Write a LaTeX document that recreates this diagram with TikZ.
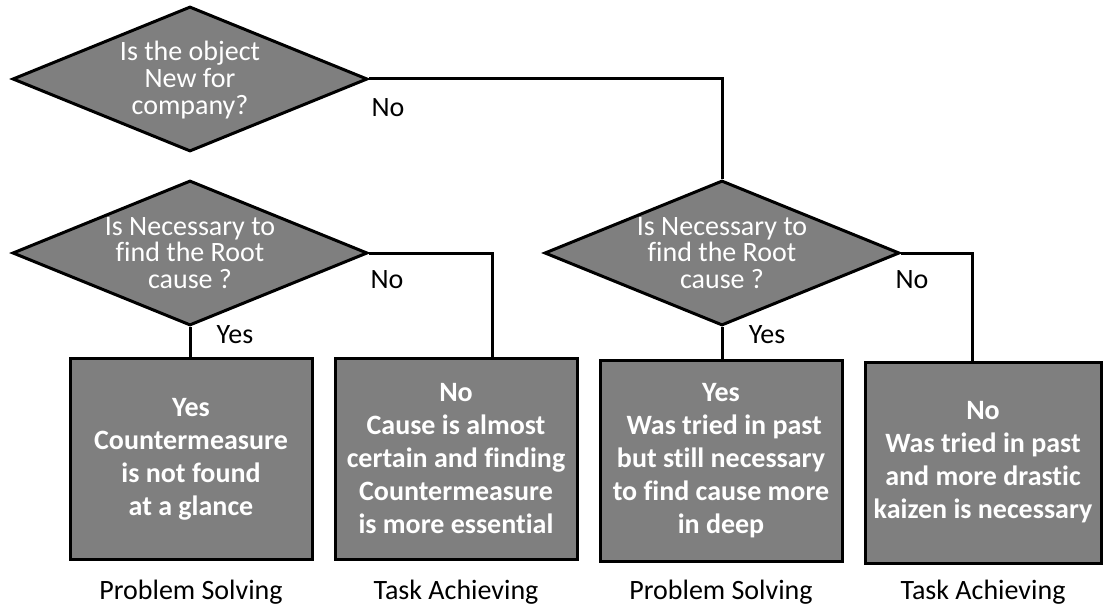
\documentclass[tikz,border=0pt]{standalone}
\usepackage{fontspec}
\setmainfont{Carlito}[Ligatures=NoCommon]
\usetikzlibrary{shapes.geometric,calc}
\definecolor{boxgray}{RGB}{127,127,127}
\begin{document}
\begin{tikzpicture}[x=1pt,y=-1pt,
  decision/.style={diamond,draw=black,line width=3pt,fill=boxgray,
    minimum width=355pt,minimum height=145pt,inner sep=0pt},
  qtext/.style={text=white,align=center,inner sep=0pt,
    font=\fontsize{28}{26.7}\selectfont},
  outcome/.style={rectangle,draw=black,line width=3pt,fill=boxgray,
    minimum width=242pt,minimum height=201pt,inner sep=0pt},
  otext/.style={text=white,align=center,inner sep=0pt,
    font=\bfseries\fontsize{28}{33}\selectfont},
  answer/.style={text=black,inner sep=0pt,font=\fontsize{28}{33}\selectfont},
  kind/.style={text=black,inner sep=0pt,font=\fontsize{28}{33}\selectfont},
  link/.style={draw=black,line width=3pt}]
\useasboundingbox (0,0) rectangle (1103,610);

% decisions
\node[decision] (q1) at (190,79) {};
\node[qtext] (q1t) at (190,80) {Is the object\\New for\\company?};
\node[decision] (q2) at (190,253) {};
\node[qtext] (q2t) at (q2) {Is Necessary to\\find the Root\\cause ?};
\node[decision] (q3) at (722,253) {};
\node[qtext] (q3t) at (q3) {Is Necessary to\\find the Root\\cause ?};

% outcomes
\node[outcome] (b1) at (191,459) {};
\node[otext] (b1t) at (b1) {Yes\\Countermeasure\\is not found\\at a glance};
\node[outcome] (b2) at (456,459) {};
\node[otext] (b2t) at (b2) {No\\Cause is almost\\certain and finding\\Countermeasure\\is more essential};
\node[outcome] (b3) at (721,461) {};
\node[otext] (b3t) at (b3) {Yes\\\hspace*{0.23em}Was tried in past\\but still necessary\\to find cause more\\in deep};
\node[outcome,minimum width=236pt] (b4) at (983,462.5) {};
\node[otext] (b4t) at (b4) {No\\Was tried in past\\and more drastic\\kaizen is necessary};

% connectors
\coordinate (n2) at ($(b2.north west)+(159,0)$);
\coordinate (n4) at ($(b4.north west)+(109,0)$);
\draw[link] (q1.east) -| (q3.north);
\draw[link] (q2.east) -| (n2);
\draw[link] (q3.east) -| (n4);
\draw[link] (q2.south) -- (q2.south |- b1.north);
\draw[link] (q3.south) -- (q3.south |- b3.north);

% branch labels
\node[answer] (l1) at (388,108) {No};
\node[answer] (l2) at (387,280) {No};
\node[answer] (l3) at (912,280) {No};
\node[answer] (l4) at (235,335) {Yes};
\node[answer] (l5) at (767,335) {Yes};

% categories
\node[kind] (c1) at (191,592) {Problem Solving};
\node[kind] (c2) at (456,592) {Task Achieving};
\node[kind] (c3) at (721,592) {Problem Solving};
\node[kind] (c4) at (983,592) {Task Achieving};
\end{tikzpicture}
\end{document}
